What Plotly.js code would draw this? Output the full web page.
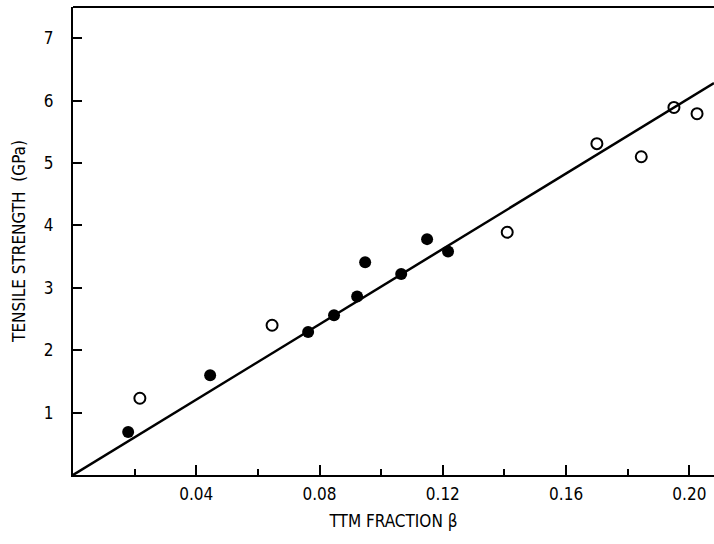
<!DOCTYPE html>
<html>
<head>
<meta charset="utf-8">
<script src="https://cdn.plot.ly/plotly-3.0.1.min.js"></script>
<style>html,body{margin:0;padding:0;background:#fff;}#chart{width:714px;height:544px;}</style>
</head>
<body>
<div id="chart"></div>
<script>
// Filled circles
const filledX = [0.0179, 0.0445, 0.0763, 0.0847, 0.0922, 0.0948, 0.1065, 0.1149, 0.1217];
const filledY = [0.69, 1.60, 2.29, 2.56, 2.86, 3.41, 3.22, 3.78, 3.58];
// Open circles
const openX = [0.0217, 0.0646, 0.1409, 0.170, 0.1844, 0.195, 0.2025];
const openY = [1.23, 2.40, 3.89, 5.31, 5.10, 5.89, 5.79];
// Fitted line
const fitX = [0, 0.208];
const fitY = [0, 6.28];
// Tick labels
const xTickVals = [0.04, 0.08, 0.12, 0.16, 0.20];
const xTickText = ["0.04", "0.08", "0.12", "0.16", "0.20"];
const yTickVals = [1, 2, 3, 4, 5, 6, 7];
const yTickText = ["1", "2", "3", "4", "5", "6", "7"];
const xMinorVals = [0.02, 0.06, 0.10, 0.14, 0.18];

const font = "DejaVu Sans Condensed, DejaVu Sans, sans-serif";

const traces = [
  {x: fitX, y: fitY, mode: 'lines', line: {color: '#000', width: 2.5}, hoverinfo: 'skip'},
  {x: filledX, y: filledY, mode: 'markers', marker: {symbol: 'circle', size: 12, color: '#000'}},
  {x: openX, y: openY, mode: 'markers', marker: {symbol: 'circle-open', size: 11, color: '#000', line: {width: 2, color: '#000'}}}
];

const layout = {
  width: 714, height: 544,
  margin: {l: 73, r: 0, t: 7, b: 69},
  showlegend: false,
  paper_bgcolor: '#fff', plot_bgcolor: '#fff',
  font: {family: font, color: '#000', size: 17},
  xaxis: {
    range: [0, 0.208], showgrid: false, zeroline: false,
    showline: true, linecolor: '#000', linewidth: 2,
    ticks: 'inside', ticklen: 10, tickwidth: 2, tickcolor: '#000',
    tickvals: xTickVals, ticktext: xTickText,
    minor: {tickvals: xMinorVals, ticks: 'inside', ticklen: 6, tickwidth: 2, tickcolor: '#000'},
    tickfont: {family: font, size: 17},
    ticklabelstandoff: 3,
    title: {text: 'TTM FRACTION β', font: {family: font, size: 17}, standoff: 12}
  },
  yaxis: {
    range: [0, 7.5], showgrid: false, zeroline: false,
    showline: true, linecolor: '#000', linewidth: 2,
    ticks: 'inside', ticklen: 9, tickwidth: 2, tickcolor: '#000',
    tickvals: yTickVals, ticktext: yTickText,
    tickfont: {family: font, size: 17},
    ticklabelstandoff: 14,
    title: {text: 'TENSILE STRENGTH  (GPa)', font: {family: font, size: 17}, standoff: 14}
  },
  shapes: [
    {type: 'line', xref: 'paper', yref: 'paper', x0: 0, x1: 1, y0: 1, y1: 1, line: {color: '#000', width: 2}}
  ]
};

Plotly.newPlot('chart', traces, layout, {displayModeBar: false, staticPlot: true});
</script>
</body>
</html>
